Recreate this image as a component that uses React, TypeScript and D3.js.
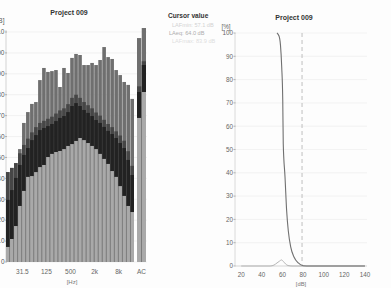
import React from "react";
import * as d3 from "d3";

// ---- Left panel: 1/3-octave spectrum (overlaid statistical levels) ----
const bands = ["12.5","16","20","25","31.5","40","50","63","80","100","125","160","200","250","315","400","500","630","800","1k","1.25k","1.6k","2k","2.5k","3.15k","4k","5k","6.3k","8k","10k","12.5k","16k"];
const bandTicks = ["31.5", "125", "500", "2k", "8k"];
const levelMax = [43.0,45.0,47.3,54.0,66.5,71.7,75.6,76.5,87.0,92.8,90.9,91.3,91.8,83.7,92.8,90.4,97.6,99.5,99.0,94.2,94.2,95.2,94.2,96.6,102.8,98.0,97.1,91.8,89.4,86.1,84.7,78.0];
const levelHigh = [43.0,45.0,47.3,52.0,56.0,59.0,62.0,64.5,66.5,67.5,68.5,69.5,71.0,72.5,73.5,75.5,78.5,80.0,78.5,76.5,75.0,73.5,71.5,70.0,68.0,66.0,64.5,62.5,60.5,58.0,53.0,46.0];
const levelMid = [29.7,34.4,40.2,46.4,51.2,54.5,58.3,60.7,63.1,64.1,65.0,66.0,67.4,68.9,69.8,71.7,74.6,76.0,74.6,72.7,71.3,69.8,67.9,66.5,64.6,62.7,61.2,59.3,56.9,54.5,48.8,41.6];
const levelLow = [7.2,11.0,17.2,26.8,34.0,40.7,41.1,43.0,45.4,46.4,50.2,51.7,52.6,53.1,54.0,55.5,56.4,57.9,59.3,58.3,56.9,55.5,54.0,51.7,49.3,46.9,43.5,40.7,36.3,31.6,26.8,23.9];
const totalBands = ["A", "C"];
const totalMax = [107.1, 111.9];
const totalHigh = [84.0, 96.0];
const totalMid = [81.3, 94.2];
const totalLow = [68.9, 81.3];
const dbTicks = [0,10,20,30,40,50,60,70,80,90,100,110];

// ---- Right panel: level distribution ----
const cumLevels = [54.7,56.7,58.1,59.3,60.3,60.8,62.5,64.1,65.7,68.0,71.2,75.4,80.0,86.7,140];
const cumPercent = [100,98.7,94.8,85.4,71.2,52.4,38.2,23.6,15.0,8.2,3.9,1.3,0.1,0,0];
const densLevels = [20,48,51.8,54.7,57.2,59.1,61.0,63.0,65.4,69.3,140];
const densPercent = [0,0,0.4,1.3,2.1,2.6,1.9,0.9,0.2,0,0];
const pctTicks = [0,10,20,30,40,50,60,70,80,90,100];
const levelTicks = [20,40,60,80,100,120,140];
const cursorLevel = 79;
const legendLines = ["LAFmin: 57.1 dB", "LAeq: 64.0 dB", "LAFmax: 83.9 dB"];

const FONT = "'Liberation Sans', Arial, sans-serif";

export default function App() {
  const W = 391, H = 288;
  const x = d3.scaleBand<string>().domain(bands).range([6, 134]).paddingInner(0.1);
  const xt = d3.scaleBand<string>().domain(totalBands).range([137, 146]).paddingInner(0.1);
  const y = d3.scaleLinear().domain([0, 110]).range([262, 32]);

  const rx = d3.scaleLinear().domain([14, 142]).range([235, 367]);
  const ry = d3.scaleLinear().domain([0, 100]).range([266, 33]);
  const lineGen = d3.line<[number, number]>().x(d => rx(d[0])).y(d => ry(d[1])).curve(d3.curveMonotoneX);
  const cumPath = lineGen(cumLevels.map((v, i) => [v, cumPercent[i]] as [number, number])) || "";
  const densPath = lineGen(densLevels.map((v, i) => [v, densPercent[i]] as [number, number])) || "";

  const layers: [number[], number[], string][] = [
    [levelMax, totalMax, "#6f6f6f"],
    [levelHigh, totalHigh, "#464646"],
    [levelMid, totalMid, "#222222"],
    [levelLow, totalLow, "#a9a9a9"],
  ];

  return (
    <svg width={W} height={H} style={{ position: "absolute", left: 0, top: 0, background: "#fdfdfd" }} fontFamily={FONT}>
      {/* left panel grid */}
      {dbTicks.map(t => (
        <line key={"g" + t} x1={6} x2={147} y1={y(t)} y2={y(t)} stroke="#ececec" strokeWidth={0.7} />
      ))}
      <line x1={6} x2={6} y1={30} y2={262} stroke="#c8c8c8" strokeWidth={0.8} />
      {dbTicks.map(t => (
        <g key={"t" + t}>
          <line x1={5} x2={7} y1={y(t)} y2={y(t)} stroke="#999" strokeWidth={0.7} />
          <text x={4.5} y={y(t) + 2.3} fontSize={6.5} fill="#555" textAnchor="end">{t}</text>
        </g>
      ))}
      <text x={4.5} y={23} fontSize={6.5} fill="#555" textAnchor="end">[dB]</text>
      {layers.map(([vals, tot, col], li) => (
        <g key={"l" + li} fill={col}>
          {bands.map((b, i) => (
            <rect key={b} x={x(b)} width={x.bandwidth()} y={y(vals[i])} height={y(0) - y(vals[i])} />
          ))}
          {totalBands.map((b, i) => (
            <rect key={b} x={xt(b)} width={xt.bandwidth()} y={y(tot[i])} height={y(0) - y(tot[i])} />
          ))}
        </g>
      ))}
      {bandTicks.map(b => (
        <text key={b} x={(x(b) || 0) + x.bandwidth() / 2 - 1.5} y={274} fontSize={6.5} fill="#666" textAnchor="middle">{b}</text>
      ))}
      <text x={141.5} y={274} fontSize={6.5} fill="#666" textAnchor="middle">AC</text>
      <text x={72} y={284} fontSize={6} fill="#777" textAnchor="middle">[Hz]</text>
      <text x={69} y={15} fontSize={7} fontWeight="bold" fill="#333" textAnchor="middle">Project 009</text>

      {/* legend */}
      <text x={168} y={18} fontSize={6.6} fontWeight="bold" fill="#333">Cursor value</text>
      <text x={172} y={27} fontSize={5.6} fill="#d2d2d2">{legendLines[0]}</text>
      <text x={169} y={35} fontSize={5.6} fill="#adadad">{legendLines[1]}</text>
      <text x={172} y={43} fontSize={5.6} fill="#dedede">{legendLines[2]}</text>

      {/* right panel */}
      {pctTicks.map(t => (
        <line key={"rg" + t} x1={235} x2={367} y1={ry(t)} y2={ry(t)} stroke="#eeeeee" strokeWidth={0.7} />
      ))}
      <line x1={235} x2={235} y1={33} y2={266} stroke="#d0d0d0" strokeWidth={0.8} />
      {pctTicks.map(t => (
        <g key={"rt" + t}>
          <line x1={233.5} x2={235.5} y1={ry(t)} y2={ry(t)} stroke="#999" strokeWidth={0.7} />
          <text x={233} y={ry(t) + 2.3} fontSize={6.3} fill="#666" textAnchor="end">{t}</text>
        </g>
      ))}
      <text x={226} y={29} fontSize={6.3} fill="#666" textAnchor="middle">[%]</text>
      {levelTicks.map(t => (
        <text key={"lx" + t} x={rx(t)} y={277} fontSize={6.3} fill="#666" textAnchor="middle">{t}</text>
      ))}
      <text x={301} y={285.5} fontSize={5.8} fill="#777" textAnchor="middle">[dB]</text>
      <line x1={rx(cursorLevel)} x2={rx(cursorLevel)} y1={33} y2={266} stroke="#b8b8b8" strokeWidth={0.9} strokeDasharray="4,3" />
      <line x1={235} x2={367} y1={266} y2={266} stroke="#cfcfcf" strokeWidth={0.7} />
      <path d={densPath} fill="none" stroke="#b5b5b5" strokeWidth={1} />
      <path d={cumPath} fill="none" stroke="#707070" strokeWidth={1.1} />
      <text x={294} y={20} fontSize={7} fontWeight="bold" fill="#333" textAnchor="middle">Project 009</text>
    </svg>
  );
}
